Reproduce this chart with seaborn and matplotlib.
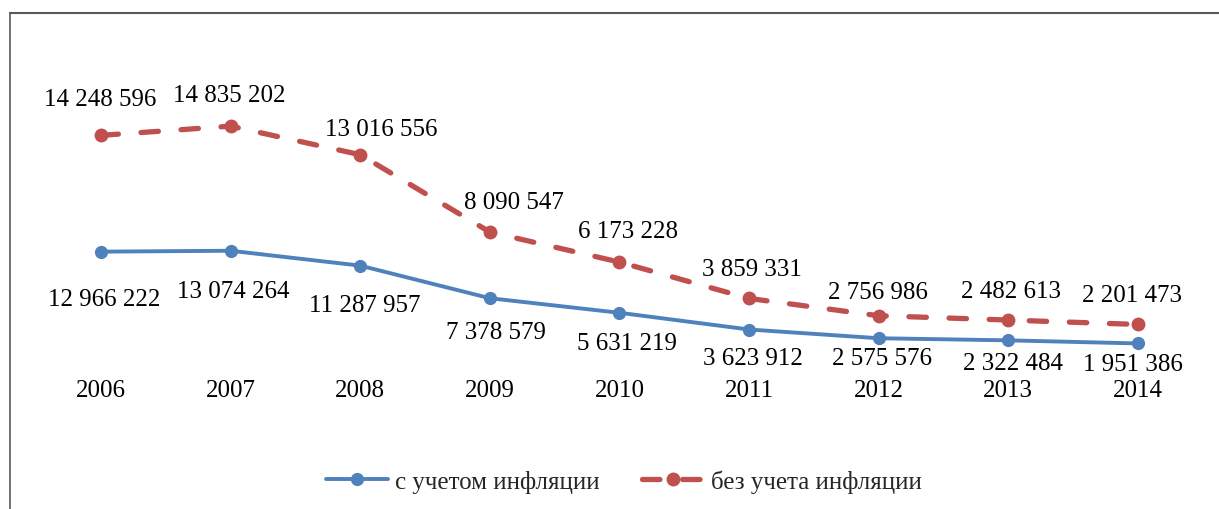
import matplotlib
matplotlib.use('Agg')
import matplotlib.pyplot as plt
from matplotlib.lines import Line2D
import seaborn as sns
import pandas as pd

# data
years = ['2006', '2007', '2008', '2009', '2010', '2011', '2012', '2013', '2014']
with_infl = [12966222, 13074264, 11287957, 7378579, 5631219, 3623912, 2575576, 2322484, 1951386]
without_infl = [14248596, 14835202, 13016556, 8090547, 6173228, 3859331, 2756986, 2482613, 2201473]
series_names = ['с учетом инфляции', 'без учета инфляции']

# hand placed label offsets (pixels), like in the original
blue_dx = [3, 3, 5, 6, 8, 4, 3, 5, -5]
blue_dy = [-47, -40, -39, -34, -30, -28, -20, -23, -21]
red_dx = [-1, -1, 21, 24, 9, 3, -1, 3, -6]
red_dy = [36, 31, 26, 30, 31, 29, 24, 29, 29]

blue = '#4F81BD'
red = '#C0504D'
fs = 18

df = pd.DataFrame({'idx': range(len(years)), 'with': with_infl, 'without': without_infl})

sns.set_style('white')
plt.rcParams['font.family'] = ['Liberation Serif', 'DejaVu Serif']

W, H = 1219, 510
fig = plt.figure(figsize=(W / 100, H / 100), dpi=100)

# axes: bottom edge at pixel row 361, top at 60
ax = fig.add_axes([0, (H - 361) / H, 1, 301 / H])
ax2 = ax.twinx()

sns.lineplot(data=df, x='idx', y='with', ax=ax, color=blue, linewidth=2.8,
             marker='o', markersize=9.5, markeredgewidth=0, label=series_names[0], legend=False)
sns.lineplot(data=df, x='idx', y='without', ax=ax2, color=red, linewidth=3.8,
             marker='o', markersize=10, markeredgewidth=0, label=series_names[1], legend=False)
red_line = ax2.lines[0]
red_line.set_dashes([3.3, 4.3])
red_line.set_dash_capstyle('round')

# x placement: 2006 at px 101, step 129.6
step = 129.6
ax.set_xlim(-101 / step, (W - 101) / step)
ax.set_ylim(-0.3 / 8.35 * 1e6, 301.3 / 8.35 * 1e6)
ax2.set_ylim(-1 / 15.8 * 1e6, 302 / 15.8 * 1e6)

ax.set_xticks(range(len(years)))
ax.set_xticklabels(years, fontsize=fs, color='black')
ax.tick_params(axis='x', length=0, pad=14)
ax.set_yticks([])
ax2.set_yticks([])
ax.set_xlabel('')
ax.set_ylabel('')
ax2.set_ylabel('')
for a in (ax, ax2):
    for s in a.spines.values():
        s.set_visible(False)
    a.patch.set_alpha(0)


def fmt(v):
    return f'{v:,}'.replace(',', ' ')


for i, v in enumerate(with_infl):
    ax.annotate(fmt(v), (i, v), xytext=(blue_dx[i], blue_dy[i]), textcoords='offset pixels',
                ha='center', va='center', fontsize=fs, color='black')
for i, v in enumerate(without_infl):
    ax2.annotate(fmt(v), (i, v), xytext=(red_dx[i], red_dy[i]), textcoords='offset pixels',
                 ha='center', va='center', fontsize=fs, color='black')

# legend
handles = [ax.lines[0], red_line]
fig.legend(handles, series_names, loc='center', bbox_to_anchor=(624 / W, 1 - 482 / H),
           ncol=2, frameon=False, fontsize=fs, handlelength=2.45, columnspacing=1.7,
           handletextpad=0.3)

# outer frame (only the left and top edges are visible)
fc = '#595959'
fig.add_artist(Line2D([9.5 / W, 1], [1 - 14 / H, 1 - 14 / H], color=fc, lw=1.5, transform=fig.transFigure))
fig.add_artist(Line2D([9.5 / W, 9.5 / W], [0, 1 - 14 / H], color=fc, lw=1.2, transform=fig.transFigure))

fig.savefig('out.png', dpi=100)
